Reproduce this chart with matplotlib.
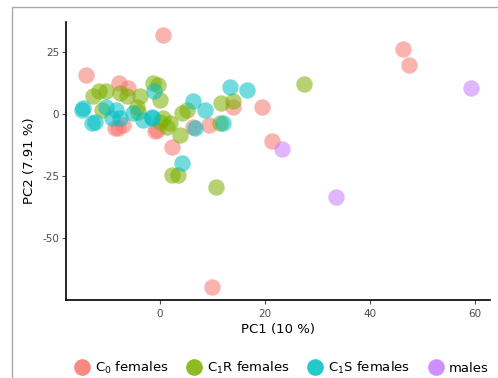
import matplotlib.pyplot as plt
from matplotlib.patches import Rectangle
from matplotlib.lines import Line2D

plt.rcParams["axes.unicode_minus"] = False

# PCA scores, one pair of lists per group
c0_x = [0.5, -14.1, -7.8, -6.1, 2.2, -8.6, -7.0, -8.0, -1.0, -0.6, 9.3, 6.3,
        13.9, 46.3, 47.4, 19.5, 21.3, 10.0]
c0_y = [31.9, 15.5, 12.5, 10.5, -13.2, -5.8, -4.4, -5.6, -7.0, -6.5, -4.4, -5.2,
        2.6, 26.1, 19.8, 2.6, -10.9, -69.9]

c1s_x = [-14.6, -14.9, -12.4, -13.0, -10.2, -8.3, -7.6, -9.2, -5.1, -3.2, -1.6,
         -1.6, -1.1, 4.1, 6.3, 8.6, 6.7, 12.0, 13.3, 16.5]
c1s_y = [2.3, 1.6, -3.1, -3.8, 2.9, 1.6, -1.7, -1.7, 0.3, -2.4, -1.1, -1.7,
         9.0, -19.9, 5.0, 1.6, -5.8, -3.8, 11.0, 9.7]

c1r_x = [-11.7, -10.2, -12.7, -11.1, -7.6, -6.3, -3.8, -4.4, -4.1, -1.3, -0.3,
         0.0, 0.0, 1.3, 0.6, 1.9, 4.1, 5.1, 3.8, 2.2, 3.5, 10.7, 11.7, 14.0,
         11.4, 27.4]
c1r_y = [9.0, 9.0, 7.0, 1.6, 8.3, 7.0, 7.0, 2.9, 0.9, 12.4, 11.7, 5.6, -3.1,
         -5.1, -1.7, -3.8, 0.3, 1.6, -8.7, -24.6, -24.6, -29.3, 4.3, 5.0,
         -3.8, 12.1]

males_x = [59.2, 23.3, 33.5]
males_y = [10.4, -14.2, -33.3]

groups = ["C$_0$ females", "C$_1$R females", "C$_1$S females", "males"]
colors = ["#F8766D", "#7CAE00", "#00BFC4", "#C77CFF"]
group_x = [c0_x, c1r_x, c1s_x, males_x]
group_y = [c0_y, c1r_y, c1s_y, males_y]
draw_order = [0, 2, 1, 3]

x_ticks = [0, 20, 40, 60]
y_ticks = [-50, -25, 0, 25]

fig = plt.figure(figsize=(4.98, 3.78), dpi=100)
ax = fig.add_axes([0.1325, 0.206, 0.852, 0.736])

for i in draw_order:
    ax.scatter(group_x[i], group_y[i], s=140, color=colors[i], alpha=0.55,
               linewidths=0, zorder=2 + i)

ax.set_xlim(-17.9, 62.9)
ax.set_ylim(-75, 37)
ax.set_xticks(x_ticks)
ax.set_yticks(y_ticks)
ax.tick_params(colors="#4D4D4D", labelsize=7.5, length=3, width=0.8)
ax.tick_params(axis="y", pad=2)
for side in ["top", "right"]:
    ax.spines[side].set_visible(False)
for side in ["left", "bottom"]:
    ax.spines[side].set_linewidth(1.2)
    ax.spines[side].set_color("black")

ax.set_xlabel("PC1 (10 %)", fontsize=9.5, labelpad=3)
ax.set_ylabel("PC2 (7.91 %)", fontsize=9.5, labelpad=4)

handles = [Line2D([], [], marker="o", linestyle="", markersize=12,
                  markerfacecolor=c, markeredgewidth=0, alpha=0.85)
           for c in colors]
fig.legend(handles, groups, loc="center", bbox_to_anchor=(0.565, 0.027),
           ncol=4, frameon=False, fontsize=9.5, handletextpad=0.4,
           columnspacing=1.3, handlelength=1.2)

# light grey frame around the picture, clipped at right and bottom
fig.patches.append(Rectangle((12 / 498, -0.1), 1.2, 1.1 - 7 / 378,
                             transform=fig.transFigure, fill=False,
                             edgecolor="#AAAAAA", linewidth=1.0))

fig.savefig("out.png", dpi=100)
